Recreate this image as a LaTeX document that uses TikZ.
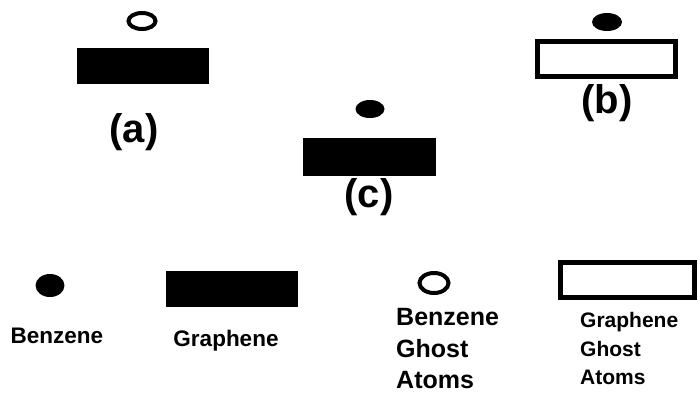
\documentclass[tikz,border=0pt]{standalone}
\usepackage{fontspec}
\setmainfont{Liberation Sans}
\usetikzlibrary{shapes.geometric}
\tikzset{
  solidbox/.style={rectangle, fill=black, draw=none, inner sep=0pt},
  ghostbox/.style={rectangle, draw=black, line width=5pt, fill=white, inner sep=0pt},
  solidatom/.style={ellipse, fill=black, draw=none, inner sep=0pt},
  ghostatom/.style={ellipse, draw=black, line width=4pt, inner sep=0pt},
  panellabel/.style={inner sep=0pt, font=\fontsize{40}{44}\selectfont\bfseries},
  legendtext/.style={inner sep=0pt, anchor=base, font=\fontsize{22.5}{24}\selectfont\bfseries},
}
\begin{document}
\begin{tikzpicture}[x=1pt, y=-1pt]
\useasboundingbox (0,0) rectangle (699,402);
% panel (a)
\node[ghostatom, minimum width=27pt, minimum height=16pt] (aatom) at (142,21) {};
\node[solidbox, minimum width=132pt, minimum height=36pt] (asheet) at (143,66) {};
\node[panellabel] (alab) at (134,132) {(a)};
% panel (b)
\node[solidatom, minimum width=30pt, minimum height=18pt] (batom) at (607,22) {};
\node[ghostbox, minimum width=138pt, minimum height=35pt] (bsheet) at (606.5,59) {};
\node[panellabel] (blab) at (607,103) {(b)};
% panel (c)
\node[solidatom, minimum width=29pt, minimum height=18pt] (catom) at (370,109) {};
\node[solidbox, minimum width=133pt, minimum height=38pt] (csheet) at (369.5,157) {};
\node[panellabel] (clab) at (369,197) {(c)};
% legend
\node[solidatom, minimum width=29pt, minimum height=23pt] (lbenz) at (50,285.5) {};
\node[legendtext] (lbenzt) at (57,343) {Benzene};
\node[solidbox, minimum width=132pt, minimum height=36pt] (lgraph) at (232,289) {};
\node[legendtext] (lgrapht) at (226,346) {Graphene};
\node[ghostatom, minimum width=29pt, minimum height=20pt] (lgbenz) at (434,283) {};
\node[inner sep=0pt, anchor=base west, font=\fontsize{25}{32}\selectfont\bfseries] (lgbenzt1) at (396,325) {Benzene};
\node[inner sep=0pt, anchor=base west, font=\fontsize{25}{32}\selectfont\bfseries] (lgbenzt2) at (396,357) {Ghost};
\node[inner sep=0pt, anchor=base west, font=\fontsize{25}{32}\selectfont\bfseries] (lgbenzt3) at (396,388) {Atoms};
\node[ghostbox, minimum width=134pt, minimum height=35pt] (lggraph) at (627.5,280) {};
\node[inner sep=0pt, anchor=base west, font=\fontsize{21}{28}\selectfont\bfseries] (lggrapht1) at (580,327) {Graphene};
\node[inner sep=0pt, anchor=base west, font=\fontsize{21}{28}\selectfont\bfseries] (lggrapht2) at (580,356) {Ghost};
\node[inner sep=0pt, anchor=base west, font=\fontsize{21}{28}\selectfont\bfseries] (lggrapht3) at (580,384) {Atoms};
\end{tikzpicture}
\end{document}
